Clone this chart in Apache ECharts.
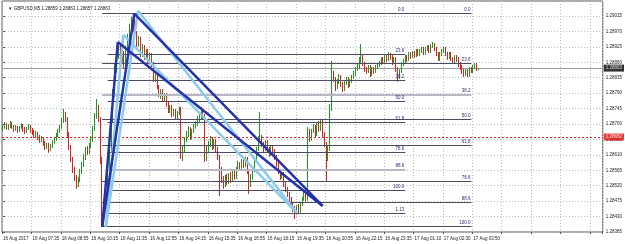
<!DOCTYPE html>
<html><head><meta charset="utf-8">
<script src="https://cdn.jsdelivr.net/npm/echarts@6/dist/echarts.min.js"></script>
<style>html,body{margin:0;padding:0;background:#fff}#c{width:625px;height:244px}</style>
</head><body><div id="c"></div>
<script>
// Prices stored as points above BASE: price = BASE + pts / 100000
const BASE = 1.28;
const firstOpen = 686;
const closes = [691,697,688,694,700,694,686,691,683,688,694,686,680,686,691,683,
677,668,674,662,653,659,645,633,639,627,636,648,656,668,680,691,
709,729,715,671,633,598,569,546,525,540,563,583,604,627,621,639,
656,686,720,750,715,598,438,467,511,569,627,715,788,860,904,919,
890,904,875,919,948,977,992,977,963,933,948,904,925,895,913,884,
901,875,831,837,808,788,796,773,785,758,738,750,729,738,720,732,
744,604,627,656,671,686,662,680,691,700,715,720,738,720,598,627,
642,656,633,651,627,604,569,540,525,546,534,551,540,560,546,569,
583,575,592,581,598,563,525,546,569,598,627,656,662,642,627,648,
627,613,633,621,604,583,563,546,554,525,511,496,481,467,452,441,
458,446,467,481,493,481,680,656,680,691,671,700,686,709,671,642,
604,627,744,846,831,808,825,837,817,802,820,831,814,825,837,846,
860,866,884,895,875,860,855,866,846,860,855,866,872,878,890,884,
895,890,901,895,881,890,860,837,855,875,884,895,890,904,898,907,
901,913,904,913,919,907,919,925,913,928,933,919,904,890,904,913,
919,904,895,904,890,884,895,890,875,866,855,846,855,843,860,855,
866,872,859,863];
const highs = [700,706,703,700,709,706,697,697,694,694,703,700,691,691,700,697,
688,683,680,677,668,665,662,651,645,645,642,653,662,674,686,697,
718,744,735,720,677,639,604,575,551,546,569,589,613,633,636,645,
665,694,732,773,756,720,604,481,522,581,639,729,802,875,925,939,
933,919,913,928,963,992,1012,1024,1006,971,957,954,933,930,919,919,
907,907,881,846,843,814,802,802,790,790,764,756,756,744,744,738,
750,750,636,662,680,694,691,686,700,709,723,729,750,744,729,636,
651,665,662,656,656,633,610,575,548,551,554,557,560,566,569,575,
592,589,598,598,604,604,569,554,575,604,633,665,735,668,648,653,
653,633,639,639,627,610,589,569,560,560,531,516,502,487,473,461,
464,467,473,487,502,499,691,686,686,700,697,706,709,715,715,677,
648,636,758,884,855,837,831,846,843,823,825,837,837,831,843,855,
866,875,895,933,901,881,866,872,872,866,866,872,878,884,895,895,
901,901,910,907,901,895,895,866,860,881,890,901,901,910,910,913,
913,919,919,919,925,925,925,930,930,933,939,936,925,910,910,919,
925,925,910,910,910,895,901,901,895,881,872,860,860,860,866,866,
872,878,878,863];
const lows = [680,686,683,683,688,686,677,680,674,677,686,677,671,674,683,674,
668,659,662,653,645,648,636,624,627,616,621,630,642,651,662,674,
686,703,706,662,624,589,557,534,511,516,531,554,575,595,610,613,
630,648,680,715,706,583,400,406,458,502,560,618,703,779,849,890,
872,878,860,866,910,939,968,968,954,925,925,895,895,887,890,875,
878,866,823,823,802,779,773,764,767,750,732,732,720,723,712,715,
726,598,592,618,648,662,653,656,674,686,694,706,715,712,589,592,
618,633,624,627,618,595,490,528,511,516,522,525,528,534,537,540,
563,566,569,572,575,554,496,516,537,560,592,621,648,633,618,621,
618,604,607,613,595,575,554,537,540,516,502,487,473,458,443,423,
435,438,441,461,476,473,476,648,651,674,662,665,677,680,662,633,
534,592,621,738,823,796,802,817,808,793,796,814,805,808,820,831,
840,855,860,878,869,852,846,849,837,840,846,849,860,866,872,875,
878,881,884,887,872,875,852,823,831,849,869,878,881,884,890,893,
893,895,898,898,907,901,901,913,907,907,922,913,898,884,884,898,
907,898,887,890,884,875,878,881,866,858,846,837,840,837,837,849,
849,860,855,857];
const tickLabels = ['16 Aug 2017','16 Aug 07:35','16 Aug 08:55','16 Aug 10:15','16 Aug 11:35','16 Aug 12:55',
  '16 Aug 14:15','16 Aug 15:35','16 Aug 16:55','16 Aug 18:15','16 Aug 19:35','16 Aug 20:55','16 Aug 22:15',
  '16 Aug 23:35','17 Aug 01:10','17 Aug 02:30','17 Aug 03:50'];
const TICK_EVERY = 16;
const SLOTS = 327;
const titleText = '\u25BC GBPUSD,M5 1.28859 1.28863 1.28857 1.28863';
const bidPts = 863;
const redLinePts = 662;
const redLineLabel = '1.28662';
// Fibonacci retracements (anchor bars & prices in points)
const fibALevels = [0, 23.6, 38.2, 50, 61.8, 78.6, 88.6, 100, 113];
const fibALabels = ['0.0','23.6','38.2','50.0','61.8','78.6','88.6','100.0','1.13'];
const fibA = {from: 57, to: 219, high: 1024, low: 508};
const fibBLevels = [0, 23.6, 38.2, 50, 61.8, 78.6, 88.6, 100];
const fibBLabels = ['0.0','23.6','38.2','50.0','61.8','78.6','88.6','100.0'];
const fibB = {from: 54, to: 255, high: 1024, low: 401};
// Drawn pattern points [bar, pts]
const darkPattern = {X: [54, 400], A: [62.5, 939], B: [71.5, 1022], D: [174, 461]};
const lightPattern = {X: [56, 400], A: [65.5, 960], B: [73.5, 1030], D: [160, 441]};

const toPrice = p => +(BASE + p / 100000).toFixed(5);
const candles = closes.map((c, i) => [toPrice(i ? closes[i-1] : firstOpen), toPrice(c), toPrice(lows[i]), toPrice(highs[i])]);
const categories = Array.from({length: SLOTS}, (_, i) => String(i));
const onTick = (idx) => idx % TICK_EVERY === 0;
const X_MIN = -0.5, X_MAX = SLOTS - 0.5;

function fibItems(f, levels, labels, grayLevels) {
  return levels.map((lv, k) => {
    const p = toPrice(f.high - lv / 100 * (f.high - f.low));
    const it = {name: labels[k], coords: [[f.from, p], [f.to, p]]};
    if (grayLevels.includes(lv)) it.lineStyle = {color: '#b8b8c4', width: 2};
    return it;
  });
}
function patternItems(pt) {
  const c = a => [a[0], toPrice(a[1])];
  return [[pt.X, pt.A], [pt.X, pt.B], [pt.A, pt.D], [pt.B, pt.D]].map(s => ({coords: [c(s[0]), c(s[1])]}));
}
const FONT = 'Liberation Sans';
const boxLabel = (bg) => ({show: true, position: 'right', formatter: '{b}', backgroundColor: bg, color: '#fff',
  fontSize: 4.5, fontFamily: FONT, padding: [1, 2], distance: 1});
const chart = echarts.init(document.getElementById('c'), null, {renderer: 'canvas'});
chart.setOption({
  animation: false,
  backgroundColor: '#fff',
  title: {text: titleText, left: 3, top: 1, textStyle: {fontSize: 4.5, fontWeight: 'normal', color: '#222', fontFamily: FONT}},
  grid: {left: 0, right: 20, top: 1, bottom: 12, show: true, borderColor: '#555', borderWidth: 1, backgroundColor: '#fff'},
  xAxis: [{
    type: 'category', data: categories, boundaryGap: true,
    axisLine: {show: false},
    axisTick: {show: true, interval: onTick, length: 2, lineStyle: {color: '#555'}},
    axisLabel: {interval: onTick, formatter: (v, i) => tickLabels[i / TICK_EVERY] || '', fontSize: 4.5, color: '#222', fontFamily: FONT, align: 'left', margin: 4},
    splitLine: {show: true, interval: onTick, lineStyle: {color: '#bdbdbd', type: [1, 2], width: 1}}
  }, {
    type: 'value', min: X_MIN, max: X_MAX, show: false
  }],
  yAxis: {
    type: 'value', position: 'right', min: 1.28385, max: 1.290587, interval: 0.00045,
    axisLine: {show: false},
    axisTick: {show: true, length: 2, lineStyle: {color: '#555'}},
    axisLabel: {fontSize: 4.5, color: '#222', fontFamily: FONT, margin: 3, formatter: v => v.toFixed(5), showMaxLabel: false},
    splitLine: {show: true, lineStyle: {color: '#bdbdbd', type: [1, 2], width: 1}}
  },
  series: [{
    type: 'lines', coordinateSystem: 'cartesian2d', xAxisIndex: 1, yAxisIndex: 0, z: 1, silent: true,
    data: [
      {coords: [[X_MIN, toPrice(bidPts)], [X_MAX, toPrice(bidPts)]], lineStyle: {color: '#9a9a9a', width: 1, type: 'solid', opacity: 1}},
      {coords: [[X_MIN, toPrice(redLinePts)], [X_MAX, toPrice(redLinePts)]], lineStyle: {color: '#d42020', width: 1, type: [2, 2], opacity: 1}}
    ]
  }, {
    type: 'scatter', xAxisIndex: 1, yAxisIndex: 0, symbolSize: 0, z: 10, silent: true, clip: false,
    data: [
      {name: toPrice(bidPts).toFixed(5), value: [X_MAX, toPrice(bidPts)], label: boxLabel('#000')},
      {name: redLineLabel, value: [X_MAX, toPrice(redLinePts)], label: boxLabel('#e01010')}
    ]
  }, {
    type: 'candlestick', xAxisIndex: 0, data: candles, barWidth: 1.2, z: 2,
    itemStyle: {color: '#1f9a1f', color0: '#dd2020', borderColor: '#1f9a1f', borderColor0: '#dd2020', borderWidth: 1}
  }, {
    type: 'lines', coordinateSystem: 'cartesian2d', xAxisIndex: 1, yAxisIndex: 0, z: 3, silent: true,
    lineStyle: {color: '#4c4c60', width: 1, opacity: 1},
    label: {show: true, position: 'insideEndTop', formatter: '{b}', fontSize: 4.5, color: '#2a2a78', fontFamily: FONT, distance: 1},
    data: fibItems(fibA, fibALevels, fibALabels, [88.6]).concat(fibItems(fibB, fibBLevels, fibBLabels, [38.2]))
  }, {
    type: 'lines', coordinateSystem: 'cartesian2d', xAxisIndex: 1, yAxisIndex: 0, z: 4, silent: true,
    lineStyle: {color: '#8ccbea', width: 2.5, opacity: 1},
    data: patternItems(lightPattern)
  }, {
    type: 'lines', coordinateSystem: 'cartesian2d', xAxisIndex: 1, yAxisIndex: 0, z: 5, silent: true,
    lineStyle: {color: '#2532a8', width: 2.5, opacity: 1},
    data: patternItems(darkPattern)
  }]
});
</script></body></html>
